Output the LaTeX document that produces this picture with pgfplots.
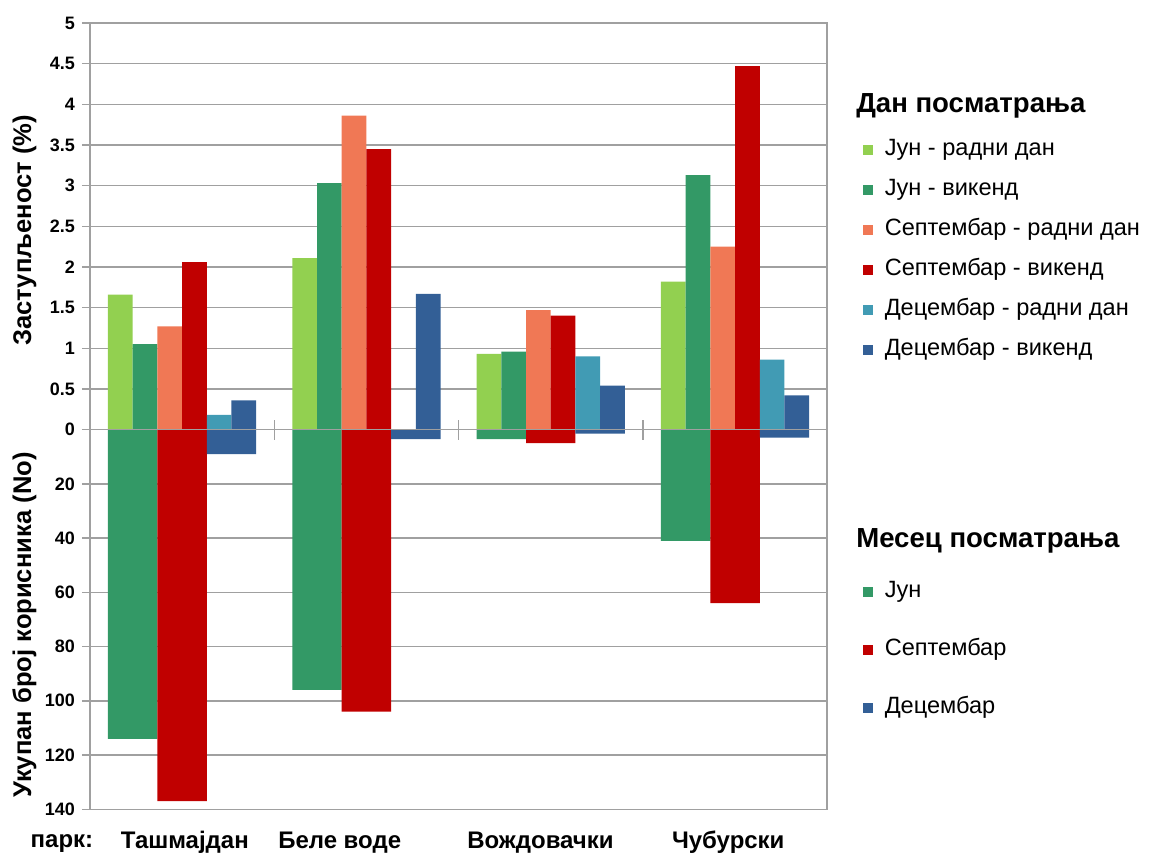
\documentclass[border=0pt]{standalone}
\usepackage{fontspec}
\setmainfont{Liberation Sans}
\usepackage{pgfplots}
\usepackage{pgfplotstable}
\pgfplotsset{compat=1.18}

\definecolor{cJunR}{RGB}{146,208,80}
\definecolor{cJunV}{RGB}{51,153,102}
\definecolor{cSepR}{RGB}{240,120,85}
\definecolor{cSepV}{RGB}{192,0,0}
\definecolor{cDecR}{RGB}{65,155,180}
\definecolor{cDecV}{RGB}{51,95,150}
\definecolor{gridc}{RGB}{160,160,160}

% share of users (%), by park and observation day
\pgfplotstableread{
park JunR JunV SepR SepV DecR DecV
0 1.66 1.05 1.27 2.06 0.18 0.36
1 2.11 3.03 3.86 3.45 0    1.67
2 0.93 0.96 1.47 1.40 0.90 0.54
3 1.82 3.13 2.25 4.47 0.86 0.42
}\share

% total number of users, by park and month
\pgfplotstableread{
park Jun Sep Dec
0 114 137 9
1 96  104 3.5
2 3.5 5   1.5
3 41  64  3
}\users

\pgfplotsset{
  base/.style={
    scale only axis, width=369pt,
    xmin=-0.5, xmax=3.5,
    axis line style={gridc, line width=0.75pt},
    ymajorgrids, grid style={gridc, line width=0.75pt},
    tick style={gridc, line width=0.75pt},
    tick align=outside, major tick length=4pt,
    ytick pos=left, xtick pos=bottom,
    /pgf/number format/assume math mode=true,
    yticklabel style={font=\bfseries\fontsize{9}{10}\selectfont},
    ylabel style={font=\bfseries\fontsize{12.8}{14}\selectfont},
    ybar,
    legend image code/.code={\fill[##1] (0pt,-2.5pt) rectangle (5pt,2.5pt);},
    legend cell align=left,
  },
}

\begin{document}
\begin{tikzpicture}
\begin{axis}[base, name=up,
  height=203.5pt,
  ymin=0, ymax=5,
  ytick={0,0.5,1,1.5,2,2.5,3,3.5,4,4.5,5},
  yticklabels={0,0.5,1,1.5,2,2.5,3,3.5,4,4.5,5},
  xtick=\empty,
  extra x ticks={0.5,1.5,2.5},
  extra x tick labels={},
  extra x tick style={major tick length=10pt, tick align=center},
  ylabel={Заступљеност (\%)},
  ylabel style={at={(axis description cs:-0.063,0.49)}},
  bar width=0.134,
  legend style={draw=none, fill=none, at={(axis description cs:1.0395,0.734)}, anchor=north west,
    font=\fontsize{11.8}{13}\selectfont, row sep=5.5pt,
    nodes={text height=8pt, text depth=2.5pt, inner sep=2pt},
    /tikz/every odd column/.append style={column sep=4pt}},
]
\addplot[fill=cJunR, draw=none, bar shift=-0.335] table[x=park, y=JunR] {\share};
\addlegendentry{Јун - радни дан}
\addplot[fill=cJunV, draw=none, bar shift=-0.201] table[x=park, y=JunV] {\share};
\addlegendentry{Јун - викенд}
\addplot[fill=cSepR, draw=none, bar shift=-0.067] table[x=park, y=SepR] {\share};
\addlegendentry{Септембар - радни дан}
\addplot[fill=cSepV, draw=none, bar shift=0.067] table[x=park, y=SepV] {\share};
\addlegendentry{Септембар - викенд}
\addplot[fill=cDecR, draw=none, bar shift=0.201] table[x=park, y=DecR] {\share};
\addlegendentry{Децембар - радни дан}
\addplot[fill=cDecV, draw=none, bar shift=0.335] table[x=park, y=DecV] {\share};
\addlegendentry{Децембар - викенд}
\end{axis}

\begin{axis}[base, name=low,
  at={(up.south west)}, anchor=north west,
  height=190pt,
  y dir=reverse,
  ymin=0, ymax=140,
  ytick={20,40,60,80,100,120,140},
  xtick={0.015,0.855,1.944,2.963},
  xticklabels={Ташмајдан, Беле воде, Вождовачки, Чубурски},
  xticklabel style={font=\bfseries\fontsize{12}{14}\selectfont, anchor=base, yshift=-15.5pt},
  x tick style={draw=none},
  ylabel={Укупан број корисника (No)},
  ylabel style={at={(axis description cs:-0.063,0.485)}},
  bar width=0.268,
  legend style={draw=none, fill=none, at={(axis description cs:1.0395,0.623)}, anchor=north west,
    font=\fontsize{11.8}{13}\selectfont, row sep=14.5pt,
    nodes={text height=8pt, text depth=2.5pt, inner sep=2pt},
    /tikz/every odd column/.append style={column sep=4pt}},
]
\addplot[fill=cJunV, draw=none, bar shift=-0.268] table[x=park, y=Jun] {\users};
\addlegendentry{Јун}
\addplot[fill=cSepV, draw=none, bar shift=0] table[x=park, y=Sep] {\users};
\addlegendentry{Септембар}
\addplot[fill=cDecV, draw=none, bar shift=0.268] table[x=park, y=Dec] {\users};
\addlegendentry{Децембар}
\end{axis}

% zero line over the bars
\draw[gridc, line width=0.75pt] ([xshift=-4pt]up.south west) -- (up.south east);
\node[anchor=base, font=\bfseries\fontsize{12}{14}\selectfont] at ([xshift=-14pt, yshift=-19pt]low.south west) {парк:};
\node[anchor=west, font=\bfseries\fontsize{13.8}{15}\selectfont] at ([xshift=380pt, yshift=-41.5pt]up.north west) {Дан посматрања};
\node[anchor=west, font=\bfseries\fontsize{13.8}{15}\selectfont] at ([xshift=380pt, yshift=-259pt]up.north west) {Месец посматрања};
\path ([xshift=-45pt, yshift=11.5pt]up.north west) rectangle ([xshift=161pt, yshift=-23pt]low.south east);
\end{tikzpicture}
\end{document}
